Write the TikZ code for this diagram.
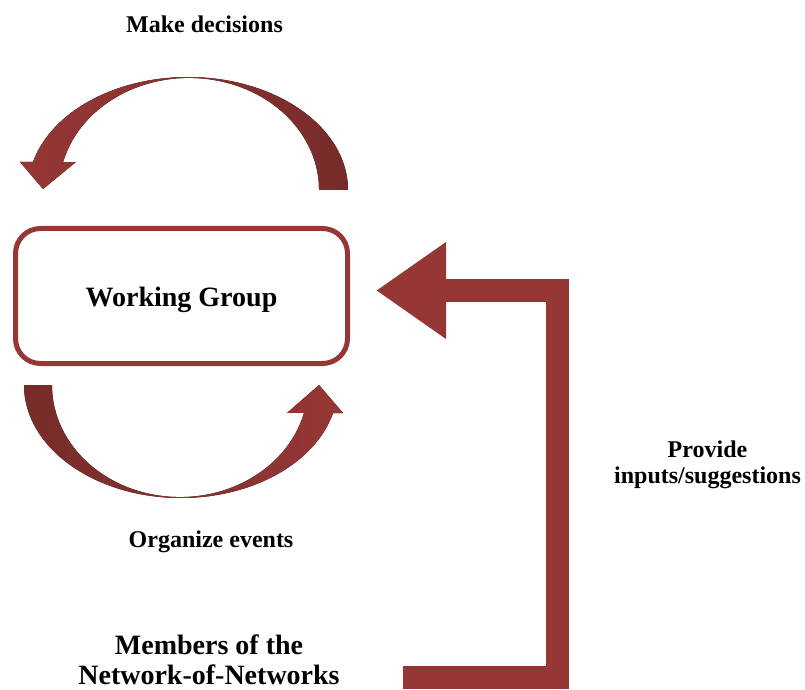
\documentclass[tikz,border=0pt]{standalone}
\usepackage{fontspec}
\setmainfont{Liberation Serif}
\usetikzlibrary{arrows.meta}
\definecolor{wgred}{HTML}{953735}
\definecolor{wgdark}{HTML}{772C2A}
\newcommand\smalllabel{\fontsize{24}{26}\selectfont\bfseries}
\newcommand\biglabel{\fontsize{28}{29.5}\selectfont\bfseries}
\tikzset{
  wgbox/.style={draw=wgred, line width=5pt, rounded corners=25pt,
    minimum width=332pt, minimum height=135pt, fill=white, font=\biglabel,
    text height=28pt, text depth=6pt},
  smalltext/.style={font=\smalllabel, align=center, anchor=base},
  bigtext/.style={font=\biglabel, align=center, anchor=base},
  bentarrow/.style={draw=wgred, line width=23pt,
    -{Triangle[length=70pt,width=92pt]}},
}

\begin{document}
\begin{tikzpicture}[x=1pt,y=1pt]
  \useasboundingbox (0,0) rectangle (805,689);
  % loop above the box
  \fill[left color=wgred, right color=wgdark] (348,499)
    arc[start angle=0, end angle=165.65, x radius=160, y radius=113]
    -- (20,527) -- (43,500) -- (76,527) -- (63.1,526.8)
    arc[start angle=165.65, end angle=0, x radius=130, y radius=112] -- cycle;
  % loop below the box
  \fill[left color=wgdark, right color=wgred] (24,304)
    arc[start angle=180, end angle=345.65, x radius=157, y radius=113]
    -- (343,276) -- (319,304) -- (287,276) -- (304,276.2)
    arc[start angle=345.65, end angle=180, x radius=128, y radius=112] -- cycle;
  \node[wgbox] (wg) at (181.5,393) {Working Group};
  \node[smalltext] (decide) at (204.5,656) {Make decisions};
  \node[smalltext] (organize) at (211,142) {Organize events};
  \node[smalltext] (inputs) at (707.5,206) {Provide\\inputs/suggestions};
  \node[bigtext] (members) at (209,5) {Members of the\\Network-of-Networks};
  \coordinate (src) at (403,12);
  \coordinate (turn) at (557,398.5);
  \coordinate (tip) at (376,398.5);
  \draw[bentarrow] (src) -| (turn) -- (tip);
\end{tikzpicture}
\end{document}
